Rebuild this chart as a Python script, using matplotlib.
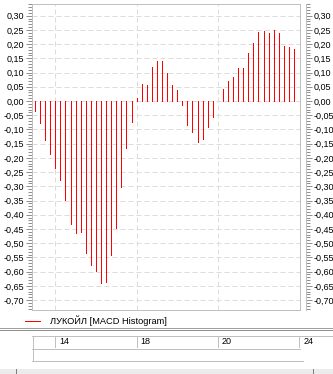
import matplotlib.pyplot as plt
import matplotlib.transforms as mtransforms
from matplotlib.lines import Line2D
from matplotlib.patches import Rectangle
from matplotlib.ticker import MultipleLocator, FuncFormatter

# MACD histogram, one value per bar
macd_hist = [
    -0.035, -0.076, -0.137, -0.187, -0.235, -0.278, -0.349, -0.433, -0.464, -0.460,
    -0.534, -0.576, -0.597, -0.639, -0.635, -0.540, -0.446, -0.301, -0.164, -0.073,
    0.012, 0.060, 0.056, 0.121, 0.141, 0.141, 0.100, 0.056, 0.039, -0.014,
    -0.083, -0.108, -0.143, -0.133, -0.090, -0.055, 0.0, 0.042, 0.071, 0.084,
    0.116, 0.116, 0.169, 0.204, 0.243, 0.246, 0.239, 0.250, 0.239, 0.193,
    0.190, 0.183,
]
# bar index where each day starts, and the day shown in the time strip
day_pos = [4, 20, 36, 52]
day_labels = ['14', '18', '20', '24']
legend_label = 'ЛУКОЙЛ [MACD Histogram]'

W, H = 333, 374
ONE_PX = 0.72  # one pixel at 100 dpi, in points
plt.rcParams['font.family'] = ['Liberation Sans', 'DejaVu Sans']
fig = plt.figure(figsize=(W / 100, H / 100), dpi=100)
fig.patch.set_facecolor('white')


def px(x, y):
    # pixel position (from top-left) -> figure fraction
    return x / W, 1 - y / H


def fig_line(x0, x1, y0, y1, color):
    a, b = px(x0, y0)
    c, d = px(x1, y1)
    fig.add_artist(Line2D([a, c], [b, d], color=color, lw=ONE_PX,
                          solid_capstyle='butt', antialiased=False))


frame = '#c0c0c0'
grid = '#dcdcdc'

# main chart
l, t, r, b = 32, 4, 300, 310
ax = fig.add_axes([l / W, 1 - b / H, (r - l) / W, (b - t) / H])
x = list(range(len(macd_hist)))
ax.vlines(x, 0, macd_hist, colors='#ff0000', linewidth=ONE_PX,
          antialiased=False, snap=True)
ax.set_xlim(-0.59, 52.17)
ax.set_ylim(-0.735, 0.341)

ax.yaxis.set_major_locator(MultipleLocator(0.05))
ax.yaxis.set_minor_locator(MultipleLocator(0.01))
ax.yaxis.set_major_formatter(FuncFormatter(
    lambda v, _: ('%.2f' % v).replace('.', ',').replace('-0,00', '0,00')))
ax.set_xticks(day_pos[:-1])
ax.tick_params(axis='x', which='both', bottom=False, labelbottom=False)
ax.tick_params(axis='y', which='both', left=True, right=True,
               labelleft=True, labelright=True, direction='out',
               color='#909090', width=ONE_PX, labelsize=6.5, pad=1.5)
ax.tick_params(axis='y', which='major', length=4)
ax.tick_params(axis='y', which='minor', length=3)

ax.grid(True, axis='both', which='major', color=grid, linestyle=(0, (5, 3)),
        linewidth=ONE_PX)
ax.set_axisbelow(True)
for side in ('left', 'top', 'bottom', 'right'):
    ax.spines[side].set_color(frame)
    ax.spines[side].set_linewidth(ONE_PX)
ax.spines['right'].set_position(('outward', 4))
ax.plot([1, 1], [0, 1], transform=ax.transAxes, color=frame, lw=ONE_PX,
        clip_on=False, antialiased=False)

# legend row
fig_line(25, 40, 320.5, 320.5, '#ff0000')
fig.text(*px(50, 320.5), legend_label, fontsize=6.7, va='center', ha='left')

# separator between chart and time strip
fig_line(0, 333, 327.5, 327.5, '#a0a0a0')
fig_line(0, 333, 329.5, 329.5, '#909090')

# time strip with day cells
tax = fig.add_axes([l / W, 1 - 348 / H, (r - l) / W, (348 - 336) / H])
tax.set_xlim(ax.get_xlim())
tax.set_ylim(0, 1)
tax.axis('off')
tr = mtransforms.offset_copy(tax.get_xaxis_transform(), fig=fig,
                             x=4, y=0, units='dots')
for p, lab in zip(day_pos, day_labels):
    tax.axvline(p, 0, 1, color=frame, lw=ONE_PX, antialiased=False, snap=True)
    tax.text(p, 0.5, lab, transform=tr, fontsize=6.5, ha='left', va='center')
fig_line(32, 333, 335.5, 335.5, frame)
fig_line(32, 300, 348.5, 348.5, frame)
fig_line(32, 303, 360.5, 360.5, frame)
fig_line(32.5, 32.5, 335.5, 360.5, frame)

# scroll bar at the very bottom
sx, sy = px(0, 374)
fig.add_artist(Rectangle((sx, sy), 1, 5 / H, transform=fig.transFigure,
                         facecolor='#ececec', edgecolor='none'))
fig_line(15.5, 15.5, 369, 374, '#808080')
fig_line(312.5, 312.5, 369, 374, '#808080')

fig.savefig('out.png', dpi=100)
